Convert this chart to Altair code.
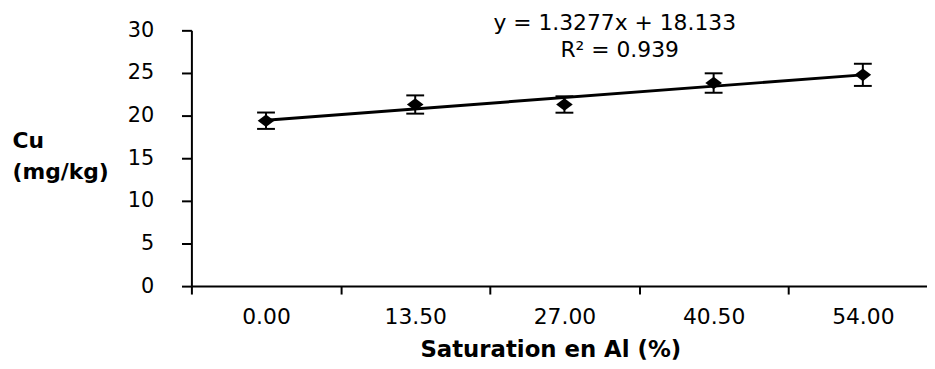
import altair as alt
import pandas as pd

# ---- data ----
categories = ["0.00", "13.50", "27.00", "40.50", "54.00"]   # Saturation en Al (%)
cu_mean = [19.40, 21.30, 21.30, 23.82, 24.78]               # Cu (mg/kg)
cu_err = [0.96, 1.07, 0.96, 1.14, 1.30]                     # error bar half-length
y_ticks = [0, 5, 10, 15, 20, 25, 30]
equation_text = "y = 1.3277x + 18.133"
r2_text = "R² = 0.939"

df = pd.DataFrame({
    "idx": list(range(1, len(categories) + 1)),
    "cat": categories,
    "cu": cu_mean,
    "err": cu_err,
})

FONT = "DejaVu Sans"
lab_js = "[" + ",".join(f"'{c}'" for c in categories) + "]"
x_vals = [0.5, 1, 1.5, 2, 2.5, 3, 3.5, 4, 4.5, 5]

x_scale = alt.Scale(domain=[0.5, 5.43], nice=False, zero=False)
y_scale = alt.Scale(domain=[0, 30], nice=False, zero=True)

x_axis = alt.Axis(
    values=x_vals,
    labelExpr=f"datum.value % 1 == 0 ? {lab_js}[datum.value - 1] : ''",
    tickOpacity={"condition": {"test": "datum.value % 1 == 0", "value": 0}, "value": 1},
    title="Saturation en Al (%)",
    titleX=362, titleY=71, titleAlign="center", titleBaseline="alphabetic",
    titleFont=FONT, titleFontSize=23, titleFontWeight="bold", titleColor="black",
    labelFont=FONT, labelFontSize=22, labelColor="black", labelPadding=13,
    labelFlush=False, labelOverlap=False,
    tickSize=8, tickWidth=2, tickColor="black",
    domainColor="black", domainWidth=2, grid=False,
)

y_axis = alt.Axis(
    values=y_ticks,
    title=["Cu", "(mg/kg)"],
    titleAngle=0, titleAlign="left", titleBaseline="alphabetic",
    titleX=-181, titleY=118, titleLineHeight=31,
    titleFont=FONT, titleFontSize=22, titleFontWeight="bold", titleColor="black",
    labelFont=FONT, labelFontSize=21, labelColor="black", labelPadding=28,
    tickSize=10, tickWidth=2, tickColor="black",
    domainColor="black", domainWidth=2, grid=False,
)

base = alt.Chart(df)
xe = alt.X("idx:Q", scale=x_scale, axis=x_axis)

trend = base.transform_regression("idx", "cu", method="linear").mark_line(
    color="black", strokeWidth=3
).encode(x=xe, y=alt.Y("cu:Q", scale=y_scale, axis=y_axis))

err_base = base.transform_calculate(lo="datum.cu - datum.err", hi="datum.cu + datum.err")

rules = err_base.mark_rule(color="black", strokeWidth=2).encode(
    x=xe, y=alt.Y("lo:Q", scale=y_scale, axis=y_axis), y2="hi:Q"
)
caps_lo = err_base.mark_tick(color="black", thickness=2, size=18, orient="horizontal", opacity=1).encode(
    x=xe, y=alt.Y("lo:Q", scale=y_scale, axis=y_axis)
)
caps_hi = err_base.mark_tick(color="black", thickness=2, size=18, orient="horizontal", opacity=1).encode(
    x=xe, y=alt.Y("hi:Q", scale=y_scale, axis=y_axis)
)

points = base.mark_point(
    shape="M-1,0L0,-0.76L1,0L0,0.76Z", filled=True, size=280, color="black", opacity=1
).encode(x=xe, y=alt.Y("cu:Q", scale=y_scale, axis=y_axis))

eq = alt.Chart(pd.DataFrame({"t": [equation_text]})).mark_text(
    font=FONT, fontSize=22, color="black", align="center", baseline="alphabetic"
).encode(x=alt.value(427), y=alt.value(0), text="t:N")

r2 = alt.Chart(pd.DataFrame({"t": [r2_text]})).mark_text(
    font=FONT, fontSize=22, color="black", align="center", baseline="alphabetic"
).encode(x=alt.value(432), y=alt.value(27), text="t:N")

chart = alt.layer(trend, rules, caps_lo, caps_hi, points, eq, r2).properties(
    width=742,
    height=258,
    autosize=alt.AutoSizeParams(type="none"),
    padding={"left": 185, "top": 21, "right": 0, "bottom": 74},
).configure_view(stroke=None)

chart.save("out.html", embed_options={"renderer": "svg", "actions": False})
